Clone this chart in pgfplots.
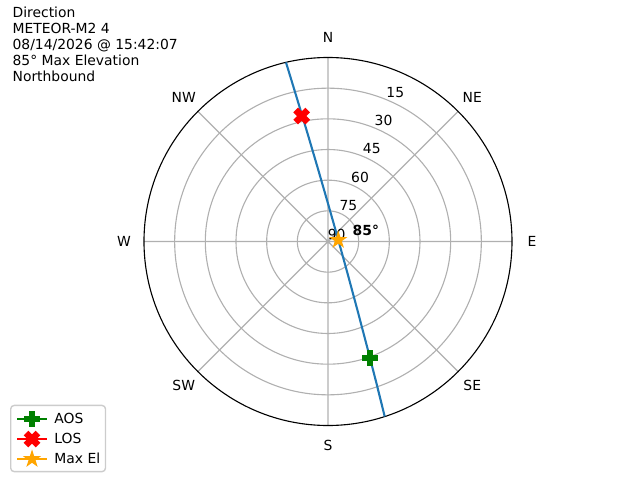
\documentclass[border=0pt]{standalone}
\usepackage{fontspec}
\setmainfont{DejaVu Sans}
\usepackage{pgfplots}
\pgfplotsset{compat=1.18}
\usepgfplotslibrary{polar}

\definecolor{trackblue}{HTML}{1F77B4}
\definecolor{aosgreen}{HTML}{008000}
\definecolor{losred}{HTML}{FF0000}
\definecolor{maxorange}{HTML}{FFA500}
\definecolor{gridgray}{HTML}{B0B0B0}
\definecolor{framegray}{HTML}{CCCCCC}

% filled plus, filled x and star (matplotlib P, X, *)
\pgfdeclareplotmark{fatplus}{%
  \pgfpathmoveto{\pgfpoint{-\pgfplotmarksize/3}{-\pgfplotmarksize}}%
  \pgfpathlineto{\pgfpoint{-\pgfplotmarksize/3}{-\pgfplotmarksize/3}}%
  \pgfpathlineto{\pgfpoint{-\pgfplotmarksize}{-\pgfplotmarksize/3}}%
  \pgfpathlineto{\pgfpoint{-\pgfplotmarksize}{\pgfplotmarksize/3}}%
  \pgfpathlineto{\pgfpoint{-\pgfplotmarksize/3}{\pgfplotmarksize/3}}%
  \pgfpathlineto{\pgfpoint{-\pgfplotmarksize/3}{\pgfplotmarksize}}%
  \pgfpathlineto{\pgfpoint{\pgfplotmarksize/3}{\pgfplotmarksize}}%
  \pgfpathlineto{\pgfpoint{\pgfplotmarksize/3}{\pgfplotmarksize/3}}%
  \pgfpathlineto{\pgfpoint{\pgfplotmarksize}{\pgfplotmarksize/3}}%
  \pgfpathlineto{\pgfpoint{\pgfplotmarksize}{-\pgfplotmarksize/3}}%
  \pgfpathlineto{\pgfpoint{\pgfplotmarksize/3}{-\pgfplotmarksize/3}}%
  \pgfpathlineto{\pgfpoint{\pgfplotmarksize/3}{-\pgfplotmarksize}}%
  \pgfpathclose
  \pgfusepathqfillstroke
}
\pgfdeclareplotmark{fatx}{%
  \pgfpathmoveto{\pgfpoint{-0.5\pgfplotmarksize}{-\pgfplotmarksize}}%
  \pgfpathlineto{\pgfpoint{0pt}{-0.5\pgfplotmarksize}}%
  \pgfpathlineto{\pgfpoint{0.5\pgfplotmarksize}{-\pgfplotmarksize}}%
  \pgfpathlineto{\pgfpoint{\pgfplotmarksize}{-0.5\pgfplotmarksize}}%
  \pgfpathlineto{\pgfpoint{0.5\pgfplotmarksize}{0pt}}%
  \pgfpathlineto{\pgfpoint{\pgfplotmarksize}{0.5\pgfplotmarksize}}%
  \pgfpathlineto{\pgfpoint{0.5\pgfplotmarksize}{\pgfplotmarksize}}%
  \pgfpathlineto{\pgfpoint{0pt}{0.5\pgfplotmarksize}}%
  \pgfpathlineto{\pgfpoint{-0.5\pgfplotmarksize}{\pgfplotmarksize}}%
  \pgfpathlineto{\pgfpoint{-\pgfplotmarksize}{0.5\pgfplotmarksize}}%
  \pgfpathlineto{\pgfpoint{-0.5\pgfplotmarksize}{0pt}}%
  \pgfpathlineto{\pgfpoint{-\pgfplotmarksize}{-0.5\pgfplotmarksize}}%
  \pgfpathclose
  \pgfusepathqfillstroke
}
\pgfdeclareplotmark{fatstar}{%
  \pgfpathmoveto{\pgfpointpolar{90}{\pgfplotmarksize}}%
  \pgfpathlineto{\pgfpointpolar{126}{0.381966\pgfplotmarksize}}%
  \pgfpathlineto{\pgfpointpolar{162}{\pgfplotmarksize}}%
  \pgfpathlineto{\pgfpointpolar{198}{0.381966\pgfplotmarksize}}%
  \pgfpathlineto{\pgfpointpolar{234}{\pgfplotmarksize}}%
  \pgfpathlineto{\pgfpointpolar{270}{0.381966\pgfplotmarksize}}%
  \pgfpathlineto{\pgfpointpolar{306}{\pgfplotmarksize}}%
  \pgfpathlineto{\pgfpointpolar{342}{0.381966\pgfplotmarksize}}%
  \pgfpathlineto{\pgfpointpolar{18}{\pgfplotmarksize}}%
  \pgfpathlineto{\pgfpointpolar{54}{0.381966\pgfplotmarksize}}%
  \pgfpathclose
  \pgfusepathqfillstroke
}

\begin{document}
\begin{tikzpicture}[font=\fontsize{10}{12}\selectfont]
\useasboundingbox (0,0) rectangle (460.8pt,345.6pt);

% header text, top left
\node[anchor=base west, inner sep=0] at (8.9pt,333.14pt) {Direction};
\node[anchor=base west, inner sep=0] at (8.9pt,321.55pt) {METEOR-M2 4};
\node[anchor=base west, inner sep=0] at (8.9pt,309.96pt) {08/14/2026 @ 15:42:07};
\node[anchor=base west, inner sep=0] at (8.9pt,298.37pt) {85° Max Elevation};
\node[anchor=base west, inner sep=0] at (8.9pt,286.78pt) {Northbound};

% angle = 90 - azimuth, radius = 90 - elevation
\begin{polaraxis}[
  at={(236.16pt,171.72pt)}, anchor=center,
  scale only axis, width=264.96pt, height=264.96pt,
  xmin=0, xmax=360, ymin=0, ymax=90,
  xtick={0,45,...,315}, ytick={15,30,45,60,75},
  xticklabels={}, yticklabels={},
  major tick length=0pt,
  grid=major,
  major grid style={gridgray, line width=0.8pt},
  x axis line style={black, line width=0.8pt},
  y axis line style={draw=none},
  clip=false,
  legend cell align=left,
  legend style={
    at={(-0.3641,-0.1272)}, anchor=south west,
    draw=framegray, line width=1pt, rounded corners=2.5pt,
    font=\fontsize{10}{12}\selectfont,
    inner xsep=3.8pt, inner ysep=4.5pt,
    row sep=3.8pt, column sep=4.6pt,
    nodes={inner sep=0pt},
  },
  legend image code/.code={
    \draw[mark repeat=2,mark phase=2] plot coordinates {(0pt,0pt)(10.8pt,0pt)(21.6pt,0pt)};
  },
]

% compass labels
\node at (axis cs:90,99.8) {N};
\node at (axis cs:45,99.8) {NE};
\node at (axis cs:0,99.8) {E};
\node at (axis cs:315,99.8) {SE};
\node at (axis cs:270,99.8) {S};
\node at (axis cs:225,99.8) {SW};
\node at (axis cs:180,99.8) {W};
\node at (axis cs:135,99.8) {NW};

% elevation labels
\node[shift={(6.2pt,5.4pt)}] at (axis cs:67.5,75) {15};
\node[shift={(6.2pt,5.4pt)}] at (axis cs:67.5,60) {30};
\node[shift={(6.2pt,5.4pt)}] at (axis cs:67.5,45) {45};
\node[shift={(6.2pt,5.4pt)}] at (axis cs:67.5,30) {60};
\node[shift={(6.2pt,5.4pt)}] at (axis cs:67.5,15) {75};
\node[shift={(6.2pt,5.4pt)}] at (axis cs:67.5,0) {90};

\addplot[trackblue, line width=1.5pt, forget plot] coordinates {
  (103.2,90) (102.24,71.74) (100.71,53.70) (97.82,35.76) (89.55,18.08)
  (74.5,9.76) (8.3,5.09) (313.16,10.88) (300.61,19.30) (293.13,36.92)
  (290.39,54.73) (288.92,72.57) (287.96,90)
};

\addplot[aosgreen, line width=1.5pt, mark=fatplus, mark size=5.3pt,
  mark options={solid, line width=1pt, fill=aosgreen}] coordinates {(289.9,60.75)};
\addlegendentry{AOS}
\addplot[losred, line width=1.5pt, mark=fatx, mark size=5.3pt,
  mark options={solid, line width=1pt, fill=losred}] coordinates {(101.84,62.7)};
\addlegendentry{LOS}
\addplot[maxorange, line width=1.5pt, mark=fatstar, mark size=5.3pt,
  mark options={solid, line width=1pt, fill=maxorange}] coordinates {(8.3,5.09)};
\addlegendentry{Max El}

\node[anchor=base west, inner sep=0, font=\fontsize{10}{12}\selectfont\bfseries,
  shift={(10.2pt,3.1pt)}] at (axis cs:8.3,5.09) {85°};
\end{polaraxis}
\end{tikzpicture}
\end{document}
